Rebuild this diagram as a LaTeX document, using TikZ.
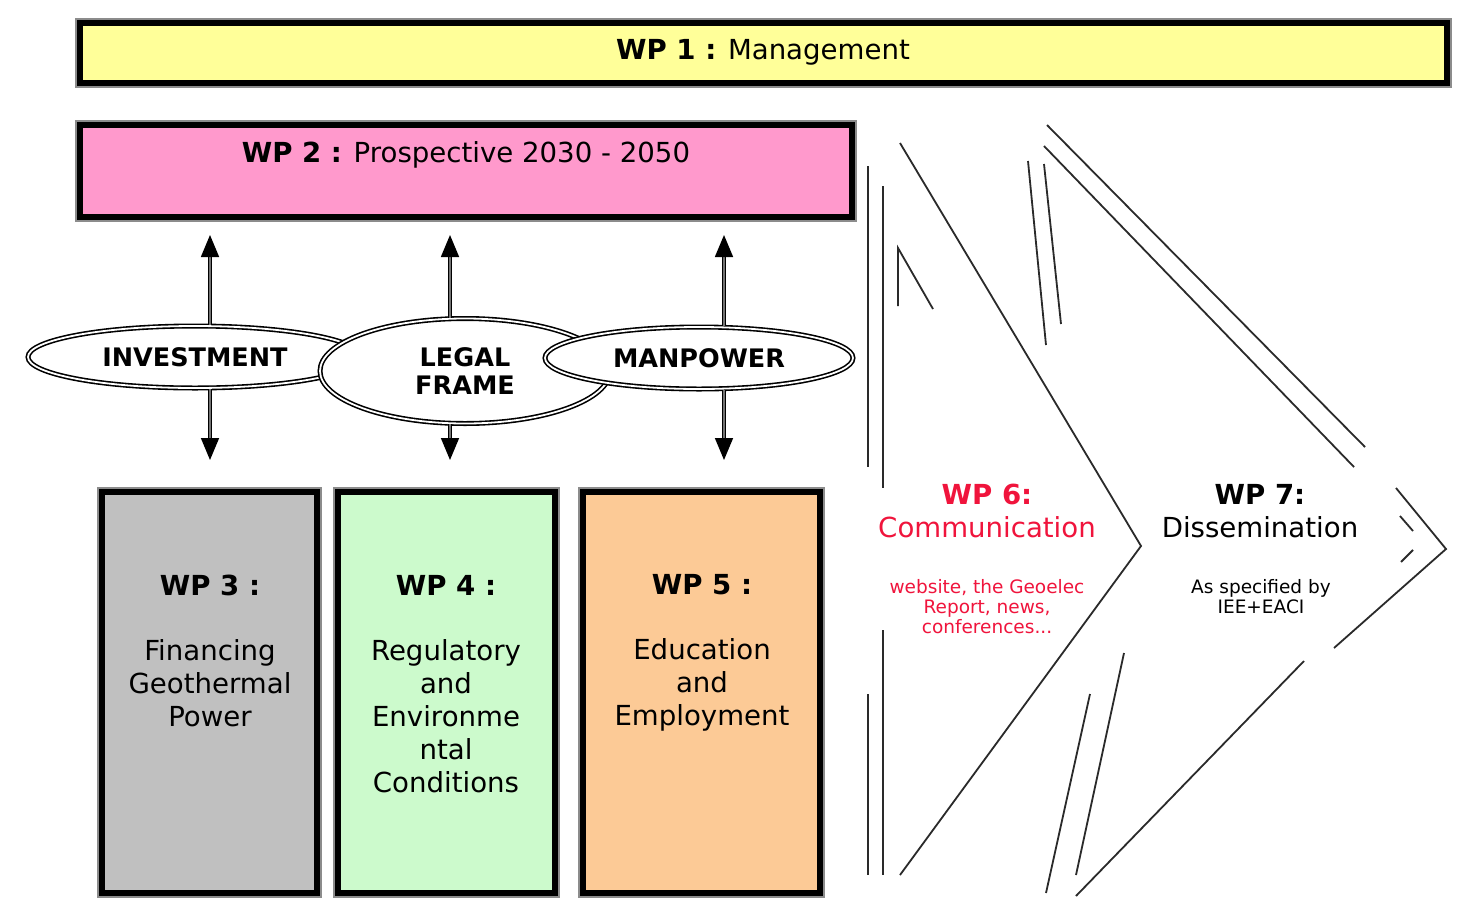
\documentclass[tikz,border=0pt]{standalone}
\usepackage{fontspec}
\setmainfont{DejaVu Sans}
\usetikzlibrary{shapes.geometric,arrows.meta}
\definecolor{wpyellow}{HTML}{FFFF99}
\definecolor{wppink}{HTML}{FF99CC}
\definecolor{wpgray}{HTML}{C0C0C0}
\definecolor{wpgreen}{HTML}{CCFACC}
\definecolor{wporange}{HTML}{FCCA96}
\definecolor{wpred}{HTML}{F0143C}
\definecolor{lineink}{HTML}{2A2A2A}
\tikzset{
  wpbox/.style={draw=black, line width=5.5pt, preaction={draw=black!45, line width=10pt},
    rectangle, inner sep=0pt, outer sep=0pt, anchor=north west},
  big/.style={font=\fontsize{27.6}{33}\selectfont, align=center, inner sep=0pt},
  small/.style={font=\fontsize{18.5}{20}\selectfont, align=center, inner sep=0pt},
  ell/.style={ellipse, draw=black, fill=white, double=white, double distance=1.8pt,
    line width=1.6pt, inner sep=0pt, align=center,
    font=\fontsize{25.5}{28}\selectfont\bfseries},
  arr/.style={draw=black, line width=1.6pt, double=black!55, double distance=1.6pt,
    -{Triangle[length=22pt,width=18pt,fill=black]}},
  chev/.style={draw=lineink, line width=1.8pt}
}
\begin{document}
\begin{tikzpicture}[x=1pt,y=-1pt]
\useasboundingbox (0,0) rectangle (1460,919);
\fill[white] (0,0) rectangle (1460,919);

% WP boxes
\node[wpbox, fill=wpyellow, minimum width=1367, minimum height=60] (wp1) at (80,23) {};
\node[big] (wp1t) at (763,52) {\textbf{WP 1 :} Management};
\node[wpbox, fill=wppink, minimum width=772, minimum height=92] (wp2) at (80,125) {};
\node[big] (wp2t) at (466,155) {\textbf{WP 2 :} Prospective 2030 - 2050};

\node[wpbox, fill=wpgray, minimum width=215, minimum height=401] (wp3) at (102,492) {};
\node[wpbox, fill=wpgreen, minimum width=217, minimum height=401] (wp4) at (338,492) {};
\node[wpbox, fill=wporange, minimum width=237, minimum height=401] (wp5) at (583,492) {};

\node[big] (wp3h) at (210,585) {\textbf{WP 3 :}};
\node[big] (wp3b) at (210,683) {Financing\\Geothermal\\Power};
\node[big] (wp4h) at (446,585) {\textbf{WP 4 :}};
\node[big] (wp4b) at (446,716) {Regulatory\\and\\Environme\\ntal\\Conditions};
\node[big] (wp5h) at (702,585) {\textbf{WP 5 :}};
\node[big] (wp5b) at (702,685) {Education\\and\\Employment};

% ellipses
\node[ell, minimum width=334, minimum height=62] (inv) at (195,357) {INVESTMENT};
\node[ell, minimum width=290, minimum height=105] (legal) at (465,371) {LEGAL\\FRAME};
\node[ell, minimum width=308, minimum height=62] (man) at (699,358) {MANPOWER};

% arrows
\draw[arr, shorten >=18pt] ([xshift=15pt]inv.north) -- ([xshift=15pt]inv.north |- wp2.south);
\draw[arr, shorten >=18pt] ([xshift=-15pt]legal.north) -- ([xshift=-15pt]legal.north |- wp2.south);
\draw[arr, shorten >=18pt] ([xshift=25pt]man.north) -- ([xshift=25pt]man.north |- wp2.south);
\draw[arr, shorten >=32pt] ([xshift=15pt]inv.south) -- ([xshift=15pt]inv.south |- wp3.north);
\draw[arr, shorten >=32pt] ([xshift=-15pt]legal.south) -- ([xshift=-15pt]legal.south |- wp4.north);
\draw[arr, shorten >=32pt] ([xshift=25pt]man.south) -- ([xshift=25pt]man.south |- wp5.north);

% chevrons (WP6 / WP7)
\draw[chev] (868,166) -- (868,467);
\draw[chev] (883,186) -- (883,488);
\draw[chev] (868,694) -- (868,875);
\draw[chev] (883,630) -- (883,875);
\draw[chev] (898,306) -- (898,248) -- (933,309);
\draw[chev] (900,143) -- (1141,546) -- (900,875);
\draw[chev] (1028,161) -- (1046,345);
\draw[chev] (1044,164) -- (1061,324);
\draw[chev] (1047,125) -- (1365,447);
\draw[chev] (1044,146) -- (1354,467);
\draw[chev] (1396,488) -- (1446,549) -- (1334,648);
\draw[chev] (1304,661) -- (1076,896);
\draw[chev] (1400,516) -- (1413,531);
\draw[chev] (1401,562) -- (1413,550);
\draw[chev] (1090,694) -- (1046,893);
\draw[chev] (1124,653) -- (1076,875);

\node[big, text=wpred] (wp6) at (987,511) {\textbf{WP 6:}\\Communication};
\node[small, text=wpred] (wp6s) at (987,607) {website, the Geoelec\\Report, news,\\conferences...};
\node[big] (wp7) at (1260,511) {\textbf{WP 7:}\\Dissemination};
\node[small] (wp7s) at (1261,597) {As specified by\\IEE+EACI};
\end{tikzpicture}
\end{document}
